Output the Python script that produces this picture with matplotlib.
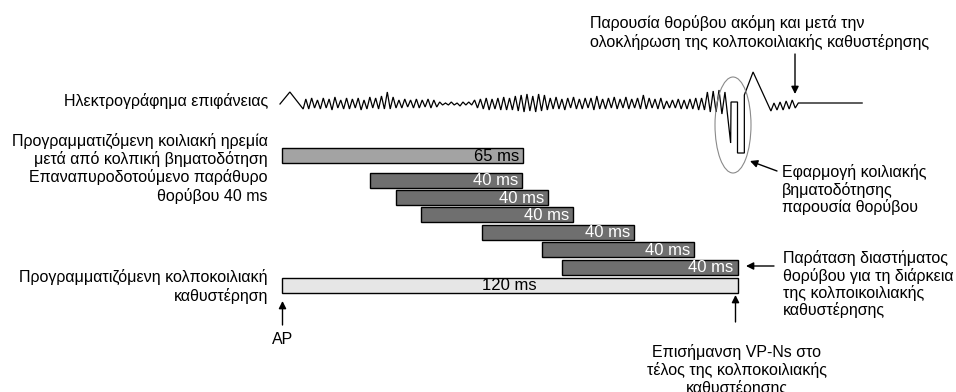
import numpy as np
import matplotlib
matplotlib.use("Agg")
import matplotlib.pyplot as plt
from matplotlib.patches import Ellipse

plt.rcParams['font.family'] = ['Liberation Sans', 'DejaVu Sans']

# timeline: ms after atrial pace (AP)
bar_labels = ['65 ms', '40 ms', '40 ms', '40 ms', '40 ms', '40 ms', '40 ms', '120 ms']
bar_start = [0, 23.3, 30.2, 36.8, 52.8, 68.5, 73.8, 0]
bar_end = [63.5, 63.4, 70.2, 76.8, 92.8, 108.5, 120, 120]
bar_kind = ['vrp', 'win', 'win', 'win', 'win', 'win', 'win', 'avd']

# surface ECG: P wave, noise, then pacing artefact at end of AV delay
p_t = [-0.4, 2.2, 5.7]
p_amp = [0, 12, -5]
noise_start, noise_end = 6.4, 115.9
noise_amp = [5, -5, 6, -4, 4, -5, 6, -4, 5, -6, 7, -4, 4, -5, 6, -5, 5, -4, 6, -6, 4, -5, 7, -4, 6, -5, 8, -5,
             12, -5,
             7, -4, 4, -4, 5, -3, 4, -4, 5, -4, 4, -3, 5, -4, 4, -3,
             2, -1, 1, -1, 2, -1, 1, -2, 2, -1, 2, -1,
             4, -4, 5, -5, 6, -6, 5, -5, 6, -6, 7, -6, 6, -6,
             8, -7, 9, -8, 10, -7, 8, -8, 10, -7, 9, -6,
             6, -5, 7, -5, 5, -6, 6, -4, 7, -5, 5, -5, 6, -4, 6, -6, 8, -5, 5, -5, 6, -4, 7, -5, 5, -4,
             7, -5, 5, -4, 6, -5, 9, -5, 6, -4, 5, -5, 6, -5,
             3, -4, 4, -4, 5, -5, 4, -5, 5, -5, 6, -6, 6, -6,
             12, -8, 13, -8, 14, -10]
pace_t = [116.7, 118.2, 118.3, 120.0, 120.0, 121.8, 121.8, 124.1, 128.8, 129.6, 130.4, 131.2,
          132.0, 132.8, 133.6, 134.4, 135.2, 136.0, 152.8]
pace_amp = [12, -39, 2, 2, -49, -49, 9, 32, -7, 1, -6, 2, -6, 3, -5, 4, -4, 1, 1]

fills = {'vrp': '#a3a3a3', 'win': '#6f6f6f', 'avd': '#e6e6e6'}
txt_col = {'vrp': 'black', 'win': 'white', 'avd': 'black'}
bar_y = [155.5, 180, 197.5, 214.5, 232, 249.5, 267, 285.5]

fig = plt.figure(figsize=(9.56, 3.92), dpi=100)
x0_px, px_per_ms = 281.5, 3.8
ax = fig.add_axes([0, 0, 1, 1])
ax.set_xlim(-x0_px / px_per_ms, (956 - x0_px) / px_per_ms)
ax.set_ylim(392, 0)
ax.axis('off')
lay = fig.add_axes([0, 0, 1, 1], facecolor='none')
lay.set_xlim(0, 956)
lay.set_ylim(392, 0)
lay.axis('off')

fs = 11.5

# bars
for lab, s, e, k, y in zip(bar_labels, bar_start, bar_end, bar_kind, bar_y):
    ax.barh(y, e - s, left=s, height=15, color=fills[k], edgecolor='black', linewidth=1.0)
    if k == 'avd':
        ax.text((s + e) / 2, y, lab, ha='center', va='center', fontsize=12, color=txt_col[k])
    else:
        ax.text(e - 1.0, y + 0.5, lab, ha='right', va='center', fontsize=12, color=txt_col[k])

# ECG trace
base = 104
n_t = np.linspace(noise_start, noise_end, len(noise_amp))
ecg_t = np.concatenate([p_t, n_t, pace_t])
ecg_a = np.concatenate([p_amp, noise_amp, pace_amp])
ax.plot(ecg_t, base - ecg_a, color='black', lw=0.9, solid_joinstyle='miter')

# left labels
lx = 268
left_labels = [(101, 'Ηλεκτρογράφημα επιφάνειας'),
               (140.5, 'Προγραμματιζόμενη κοιλιακή ηρεμία'),
               (158.5, 'μετά από κολπική βηματοδότηση'),
               (177, 'Επαναπυροδοτούμενο παράθυρο'),
               (195.5, 'θορύβου 40 ms'),
               (277, 'Προγραμματιζόμενη κολποκοιλιακή'),
               (295.5, 'καθυστέρηση')]
for y, t in left_labels:
    lay.text(lx, y, t, ha='right', va='center', fontsize=fs)

# right annotations
lay.text(590, 23, 'Παρουσία θορύβου ακόμη και μετά την', ha='left', va='center', fontsize=fs)
lay.text(590, 42, 'ολοκλήρωση της κολποκοιλιακής καθυστέρησης', ha='left', va='center', fontsize=fs)
lay.annotate('', xy=(795, 94), xytext=(795, 54),
             arrowprops=dict(arrowstyle='-|>', color='black', lw=1.0, mutation_scale=11, shrinkA=0, shrinkB=0))

lay.add_patch(Ellipse((733, 125), 36, 96, fill=False, edgecolor='#8a8a8a', lw=0.8))
lay.annotate('', xy=(750, 161), xytext=(777, 171),
             arrowprops=dict(arrowstyle='-|>', color='black', lw=1.0, mutation_scale=11, shrinkA=0, shrinkB=0))
for y, t in [(172, 'Εφαρμογή κοιλιακής'), (190, 'βηματοδότησης'), (207, 'παρουσία θορύβου')]:
    lay.text(782, y, t, ha='left', va='center', fontsize=fs)

lay.annotate('', xy=(746, 266), xytext=(774, 266),
             arrowprops=dict(arrowstyle='-|>', color='black', lw=1.0, mutation_scale=11, shrinkA=0, shrinkB=0))
for y, t in [(258, 'Παράταση διαστήματος'), (275.5, 'θορύβου για τη διάρκεια'),
             (293, 'της κολποικοιλιακής'), (310.5, 'καθυστέρησης')]:
    lay.text(783, y, t, ha='left', va='center', fontsize=fs)

lay.annotate('', xy=(735.5, 295), xytext=(735.5, 322),
             arrowprops=dict(arrowstyle='-|>', color='black', lw=1.0, mutation_scale=11, shrinkA=0, shrinkB=0))
for y, t in [(352, 'Επισήμανση VP-Ns στο'), (370, 'τέλος της κολποκοιλιακής'), (388, 'καθυστέρησης')]:
    lay.text(737, y, t, ha='center', va='center', fontsize=fs)

lay.annotate('', xy=(282.5, 301), xytext=(282.5, 325),
             arrowprops=dict(arrowstyle='-|>', color='black', lw=1.0, mutation_scale=11, shrinkA=0, shrinkB=0))
lay.text(283, 340, 'AP', ha='center', va='center', fontsize=fs)

fig.savefig('out.png', dpi=100, facecolor='white')
